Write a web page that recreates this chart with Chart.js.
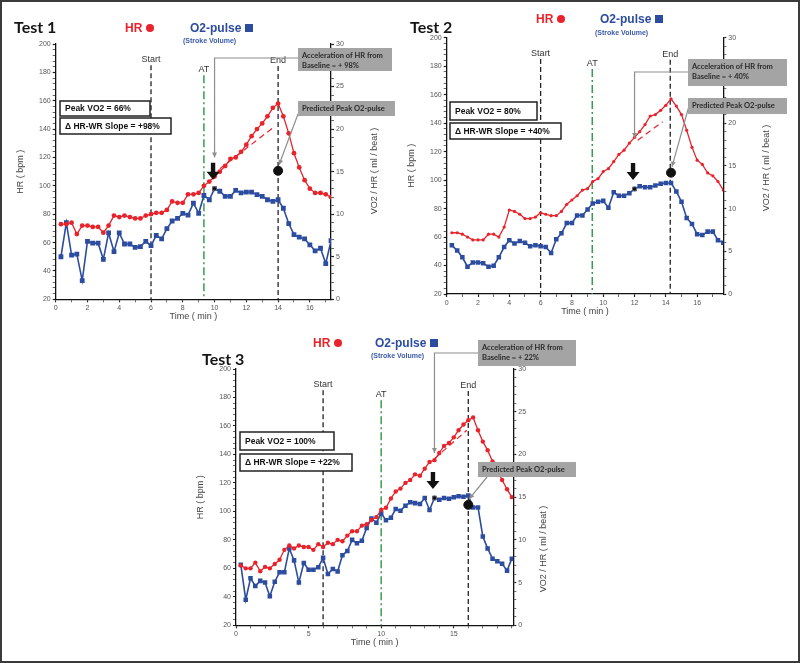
<!DOCTYPE html>
<html>
<head>
<meta charset="utf-8">
<script src="https://cdn.jsdelivr.net/npm/chart.js@4.4.1/dist/chart.umd.min.js"></script>
<style>
  html, body { margin: 0; padding: 0; background: #fff; }
  #page { position: relative; width: 800px; height: 663px; overflow: hidden; font-family: "Liberation Sans", Arial, sans-serif; }
  #page::after { content: ''; position: absolute; inset: 0; border: 2px solid #3a3a3a; pointer-events: none; }
  canvas { position: absolute; }
  .t { position: absolute; white-space: nowrap; line-height: 1; }
  .test { font: bold 16px Lato, "Open Sans", sans-serif; color: #151515; }
  .hr { font-weight: bold; font-size: 12px; color: #e8232b; }
  .o2 { font-weight: bold; font-size: 12px; color: #2c4c9f; }
  .sv { font-weight: bold; font-size: 7px; color: #3a5aa8; }
  .dot { display: inline-block; width: 8px; height: 8px; border-radius: 50%; background: #e8232b; margin-left: 4px; }
  .sq { display: inline-block; width: 8px; height: 8px; background: #2c4c9f; margin-left: 4px; }
</style>
</head>
<body>
<div id="page"></div>
<script>
// sample times (min), shared by all three tests
const minutes = [0.33,0.67,1,1.33,1.67,2,2.33,2.67,3,3.33,3.67,4,4.33,4.67,5,5.33,5.67,6,6.33,6.67,
  7,7.33,7.67,8,8.33,8.67,9,9.33,9.67,10,10.33,10.67,11,11.33,11.67,12,12.33,12.67,13,13.33,
  13.67,14,14.33,14.67,15,15.33,15.67,16,16.33,16.67,17,17.33,17.67,18,18.33,18.67,19];

// Test 1
const hr1 = [73,73,74,66,72,72,71,71,67,72,79,78,79,78,77,77,79,80,81,81,
  83,89,88,88,94,94,95,100,103,106.5,110,114,119,120,124,129,135,140,144,149,
  155,158,149,137,123,113,104,98,95,95,94,92];
const o2p1 = [5.0,9.0,5.2,5.3,2.2,6.8,6.6,6.6,4.7,7.8,5.6,7.8,6.5,6.5,6.1,6.2,6.8,6.3,7.5,7.1,
  8.3,9.2,9.5,10.1,9.9,11.3,10.1,12.2,11.7,13.0,12.7,12.1,12.1,12.8,12.5,12.6,12.6,12.3,12.1,11.7,
  11.5,11.7,10.7,8.9,7.6,7.3,7.1,6.4,5.7,6.0,4.2,6.9];

// Test 2
const hr2 = [63,63,62,60,58,58,58,62,62,60,67,79,78,76,73,73,74,77,76,75,
  75,78,83,86,89,93,94,99,101,106,108,113,118,121,126,130,134,139,145,146,
  149,152.5,157,152,146,135,123,114,111,105,103,99,93];
const o2p2 = [5.7,5.1,4.3,3.2,3.7,3.7,3.6,3.2,3.3,4.3,5.5,6.3,5.9,6.2,6.0,5.6,5.7,5.6,5.5,4.8,
  6.4,7.1,8.3,8.3,9.2,9.2,9.9,10.6,10.8,10.9,10.1,11.9,11.5,11.5,11.8,12.3,12.6,12.5,12.5,12.7,
  12.9,13.0,13.0,12.0,10.8,8.9,8.2,7.0,6.9,7.3,7.3,6.3,6.0];

// Test 3
const hr3 = [62,60,60,64,58,61,60,63,66,73,76,74,76,75,75,73,77,75,78,77,
  80,79,83,86,86,90,91,94,96,101,102.6,109,114,116,120,122,126,125,130,134.7,
  136,141,146,148,152,157,161,164,166,157,149,143,135,129,122,115.5,110];
const o2p3 = [7.1,3.0,5.5,4.6,5.2,5.0,3.4,5.1,6.2,6.2,9.0,7.6,5.0,7.3,6.5,6.5,6.8,7.9,6.0,6.6,
  6.3,8.2,8.7,10.0,9.6,9.9,11.4,12.5,12.0,13.1,12.3,12.6,13.6,13.4,14.0,14.4,14.3,14.2,14.9,13.5,
  14.9,14.7,14.9,14.8,15.0,15.1,15.05,15.2,13.8,13.8,10.4,9.0,7.8,7.5,7.2,6.4,7.8];

// markers per test (Test 1, Test 2, Test 3)
const startT = [6, 6, 6];
const atT = [9.33, 9.3, 10];
const endT = [14, 14.28, 16];
const breakT = [10, 12, 13.67];       // arrow: HR acceleration point
const breakO2 = [13.0, 12.3, 14.9];
const predT = [14, 14.33, 16];        // predicted peak O2-pulse
const predO2 = [15.1, 14.2, 14.1];
const trendT0 = [10.33, 12.2, 13.67], trendHR0 = [112, 128, 137];
const trendT1 = [13.8, 13.8, 15.9], trendHR1 = [142, 141, 157];
const peakVO2 = ['66%', '80%', '100%'];
const slopeGain = ['+98%', '+40%', '+22%'];

const RED = '#e8232b', BLUE = '#2c4c9f', GREEN = '#3a9a50';
Chart.defaults.font.family = '"Liberation Sans", Arial, sans-serif';

const panels = [
  { id: 'c1', hr: hr1, o2: o2p1, box: [0, 0, 400, 330], area: [55.7, 44, 331, 299.3], xMax: 17.33, xEvery: 2, hrR: 2.4, o2R: 3.4, rtOff: 44, rtY: 171,
    accel: [298, 48, 94, 23], accelY: 58, accelHR: 120, pred: [298, 101, 97, 15], predFrom: [298, 114],
    peak: [[60, 101, 90, 15], [60, 118, 111, 16]],
    head: { test: [14, 17], hr: [125, 22], o2: [190, 22], sv: [183, 36.5] } },
  { id: 'c2', hr: hr2, o2: o2p2, box: [400, 0, 400, 330], area: [446.7, 37.7, 723.3, 294], xMax: 17.67, xEvery: 2, hrR: 1.6, o2R: 3.2, rtOff: 43, rtY: 168,
    accel: [688, 59, 99, 27], accelY: 72, accelHR: 129.5, pred: [688, 98, 99, 16], predFrom: [689, 106],
    peak: [[450, 102, 87, 18], [450, 123, 111, 16]],
    head: { test: [410, 17], hr: [536, 13], o2: [600, 13], sv: [595, 28.5] } },
  { id: 'c3', hr: hr3, o2: o2p3, box: [180, 330, 440, 333], area: [236, 369, 513.3, 625.3], xMax: 19.1, xEvery: 5, hrR: 2.2, o2R: 3.2, rtOff: 30, rtY: 549,
    accel: [478, 340, 98, 26], accelY: 353, accelHR: 141, pred: [478, 462, 98, 15], predFrom: [487, 477],
    peak: [[240, 432, 94, 18], [240, 454, 112, 17]],
    head: { test: [202, 349], hr: [313, 337], o2: [375, 337], sv: [371, 351.5] } }
];

function series(t, v) { return v.map((y, i) => ({ x: t[i], y })); }

function arrowLine(ctx, pts) {
  ctx.beginPath();
  ctx.moveTo(pts[0][0], pts[0][1]);
  pts.slice(1).forEach(p => ctx.lineTo(p[0], p[1]));
  ctx.stroke();
  const [a, b] = pts.slice(-2);
  const ang = Math.atan2(b[1] - a[1], b[0] - a[0]);
  ctx.beginPath();
  ctx.moveTo(b[0], b[1]);
  ctx.lineTo(b[0] - 5 * Math.cos(ang) + 2.5 * Math.sin(ang), b[1] - 5 * Math.sin(ang) - 2.5 * Math.cos(ang));
  ctx.lineTo(b[0] - 5 * Math.cos(ang) - 2.5 * Math.sin(ang), b[1] - 5 * Math.sin(ang) + 2.5 * Math.cos(ang));
  ctx.closePath();
  ctx.fill();
}

const notes = {
  id: 'notes',
  beforeDatasetsDraw(chart) {
    const k = +chart.canvas.dataset.k;
    const { ctx, chartArea: a, scales: { x, y } } = chart;
    [[startT[k], 185, 'Start', '#222', [5, 3], 1.3],
     [atT[k], 178, 'AT', GREEN, [8, 3, 2, 3], 1.5],
     [endT[k], 184.5, 'End', '#222', [5, 3], 1.3]].forEach(([t, top, label, col, dash, w]) => {
      const px = x.getPixelForValue(t), py = y.getPixelForValue(top);
      ctx.save();
      ctx.strokeStyle = col; ctx.lineWidth = w; ctx.setLineDash(dash);
      ctx.beginPath(); ctx.moveTo(px, py); ctx.lineTo(px, a.bottom); ctx.stroke();
      ctx.fillStyle = '#333'; ctx.font = '9px "Liberation Sans", Arial';
      ctx.textAlign = 'center'; ctx.textBaseline = 'bottom';
      ctx.fillText(label, px, py - 1);
      ctx.restore();
    });
  },
  afterDraw(chart) {
    const k = +chart.canvas.dataset.k, p = panels[k];
    const [ox, oy] = p.box;
    const { ctx, chartArea: a, scales: { x, y, y1 } } = chart;
    ctx.save();

    // right axis title
    ctx.save();
    ctx.translate(a.right + p.rtOff, p.rtY - oy);
    ctx.rotate(-Math.PI / 2);
    ctx.fillStyle = '#444'; ctx.font = '9px "Liberation Sans", Arial';
    ctx.textAlign = 'center'; ctx.textBaseline = 'middle';
    ctx.fillText('VO2 / HR ( ml / beat )', 0, 0);
    ctx.restore();

    // bold black arrow above the break point
    const bx = x.getPixelForValue(breakT[k]) - 1.5, tip = y1.getPixelForValue(breakO2[k]) - 9;
    ctx.fillStyle = '#111';
    ctx.beginPath();
    ctx.moveTo(bx - 2.2, tip - 17); ctx.lineTo(bx + 2.2, tip - 17); ctx.lineTo(bx + 2.2, tip - 8);
    ctx.lineTo(bx + 6.5, tip - 8); ctx.lineTo(bx, tip); ctx.lineTo(bx - 6.5, tip - 8);
    ctx.lineTo(bx - 2.2, tip - 8); ctx.closePath(); ctx.fill();

    // callout lines
    ctx.strokeStyle = '#8e8e8e'; ctx.fillStyle = '#8e8e8e'; ctx.lineWidth = 1.2;
    const ex = x.getPixelForValue(breakT[k]);
    arrowLine(ctx, [[p.accel[0] - ox, p.accelY - oy], [ex, p.accelY - oy], [ex, y.getPixelForValue(p.accelHR)]]);
    const cx = x.getPixelForValue(predT[k]), cy = y1.getPixelForValue(predO2[k]);
    arrowLine(ctx, [[p.predFrom[0] - ox, p.predFrom[1] - oy], [cx + 1, cy - 6]]);

    // grey note boxes
    const grey = (b, lines) => {
      ctx.fillStyle = '#a4a4a4';
      ctx.fillRect(b[0] - ox, b[1] - oy, b[2], b[3]);
      ctx.fillStyle = '#2a2a2a'; ctx.font = 'bold 7.5px Lato, "Open Sans", sans-serif';
      ctx.textAlign = 'left'; ctx.textBaseline = 'middle';
      lines.forEach((s, i) => {
        const ty = lines.length === 1 ? b[1] + b[3] / 2 : b[1] + 7.5 + i * 10;
        ctx.fillText(s, b[0] - ox + 4, ty - oy);
      });
    };
    grey(p.accel, ['Acceleration of HR from', 'Baseline = + ' + slopeGain[k].slice(1)]);
    grey(p.pred, ['Predicted Peak O2-pulse']);

    // white result boxes
    const texts = ['Peak VO2 = ' + peakVO2[k], '\u0394 HR-WR Slope = ' + slopeGain[k]];
    p.peak.forEach((b, i) => {
      ctx.fillStyle = '#fff'; ctx.strokeStyle = '#222'; ctx.lineWidth = 1.5;
      ctx.fillRect(b[0] - ox, b[1] - oy, b[2], b[3]);
      ctx.strokeRect(b[0] - ox, b[1] - oy, b[2], b[3]);
      ctx.fillStyle = '#111'; ctx.font = 'bold 8.5px "Liberation Sans", Arial';
      ctx.textAlign = 'left'; ctx.textBaseline = 'middle';
      ctx.fillText(texts[i], b[0] - ox + 5, b[1] - oy + b[3] / 2 + 0.5);
    });
    ctx.restore();
  }
};

const page = document.getElementById('page');

function addText(cls, xy, html) {
  const d = document.createElement('div');
  d.className = 't ' + cls;
  d.style.left = xy[0] + 'px'; d.style.top = xy[1] + 'px';
  d.innerHTML = html;
  page.appendChild(d);
}

panels.forEach((p, k) => {
  const [bx, by, bw, bh] = p.box, [al, at, ar, ab] = p.area;
  const RW = 40, XH = 26, L = al - bx;
  const cv = document.createElement('canvas');
  cv.id = p.id; cv.dataset.k = k; cv.width = bw; cv.height = bh;
  cv.style.left = bx + 'px'; cv.style.top = by + 'px';
  page.appendChild(cv);

  const n = p.hr.length;
  const axisTicks = (every) => ({
    autoSkip: false, maxRotation: 0, color: '#555', font: { size: 7 }, padding: 2,
    callback: v => (Math.abs(v % every) < 1e-6 ? v : '')
  });
  const axisGrid = (every) => ({
    drawOnChartArea: false, tickLength: 3, tickColor: '#222',
    tickWidth: c => (c.tick && Math.abs(c.tick.value % every) < 1e-6 ? 1.2 : 0.7)
  });

  new Chart(cv, {
    type: 'line',
    data: {
      datasets: [
        { label: 'Break', data: [{ x: breakT[k], y: breakO2[k] }], yAxisID: 'y1', showLine: false,
          pointRadius: 2.2, backgroundColor: '#111', borderColor: '#777', pointBorderWidth: 0.8 },
        { label: 'Predicted peak', data: [{ x: predT[k], y: predO2[k] }], yAxisID: 'y1', showLine: false,
          pointRadius: 4.5, backgroundColor: '#111', borderColor: '#111' },
        { label: 'HR trend', data: [{ x: trendT0[k], y: trendHR0[k] }, { x: trendT1[k], y: trendHR1[k] }], yAxisID: 'y',
          borderColor: RED, borderWidth: 1.2, borderDash: [6, 4], pointRadius: 0 },
        { label: 'HR', data: series(minutes.slice(0, n), p.hr), yAxisID: 'y',
          borderColor: RED, backgroundColor: RED, borderWidth: 1.3, pointRadius: p.hrR, pointBorderWidth: 0 },
        { label: 'O2-pulse', data: series(minutes.slice(0, n), p.o2), yAxisID: 'y1',
          borderColor: BLUE, backgroundColor: BLUE, borderWidth: 1.6, pointStyle: 'rect', pointRadius: p.o2R, pointBorderWidth: 0 }
      ]
    },
    options: {
      responsive: false, animation: false, devicePixelRatio: 1,
      layout: { padding: { left: 0, top: at - by, right: bw - (ar - bx) - RW, bottom: bh - (ab - by) - XH } },
      plugins: { legend: { display: false }, tooltip: { enabled: false } },
      scales: {
        x: { type: 'linear', min: 0, max: p.xMax,
          ticks: Object.assign(axisTicks(p.xEvery), { stepSize: 1, includeBounds: false }),
          grid: axisGrid(p.xEvery), border: { color: '#111', width: 1.3 },
          title: { display: true, text: 'Time ( min )', color: '#444', font: { size: 9 }, padding: { top: 0, bottom: 3 } },
          afterFit: s => { s.height = XH; } },
        y: { position: 'left', min: 20, max: 200,
          ticks: Object.assign(axisTicks(20), { stepSize: 4 }),
          grid: axisGrid(20), border: { color: '#111', width: 1.3 },
          title: { display: true, text: 'HR ( bpm )', color: '#444', font: { size: 9 }, padding: { top: L - 35 - 5.4, bottom: 0 } },
          afterFit: s => { s.width = L; } },
        y1: { position: 'right', min: 0, max: 30,
          ticks: Object.assign(axisTicks(5), { stepSize: 1 }),
          grid: axisGrid(5), border: { color: '#111', width: 1.3 },
          afterFit: s => { s.width = RW; } }
      }
    },
    plugins: [notes]
  });

  const h = p.head;
  addText('test', h.test, 'Test ' + (k + 1));
  addText('hr', h.hr, 'HR<span class="dot"></span>');
  addText('o2', h.o2, 'O2-pulse<span class="sq"></span>');
  addText('sv', h.sv, '(Stroke Volume)');
});
</script>
</body>
</html>
